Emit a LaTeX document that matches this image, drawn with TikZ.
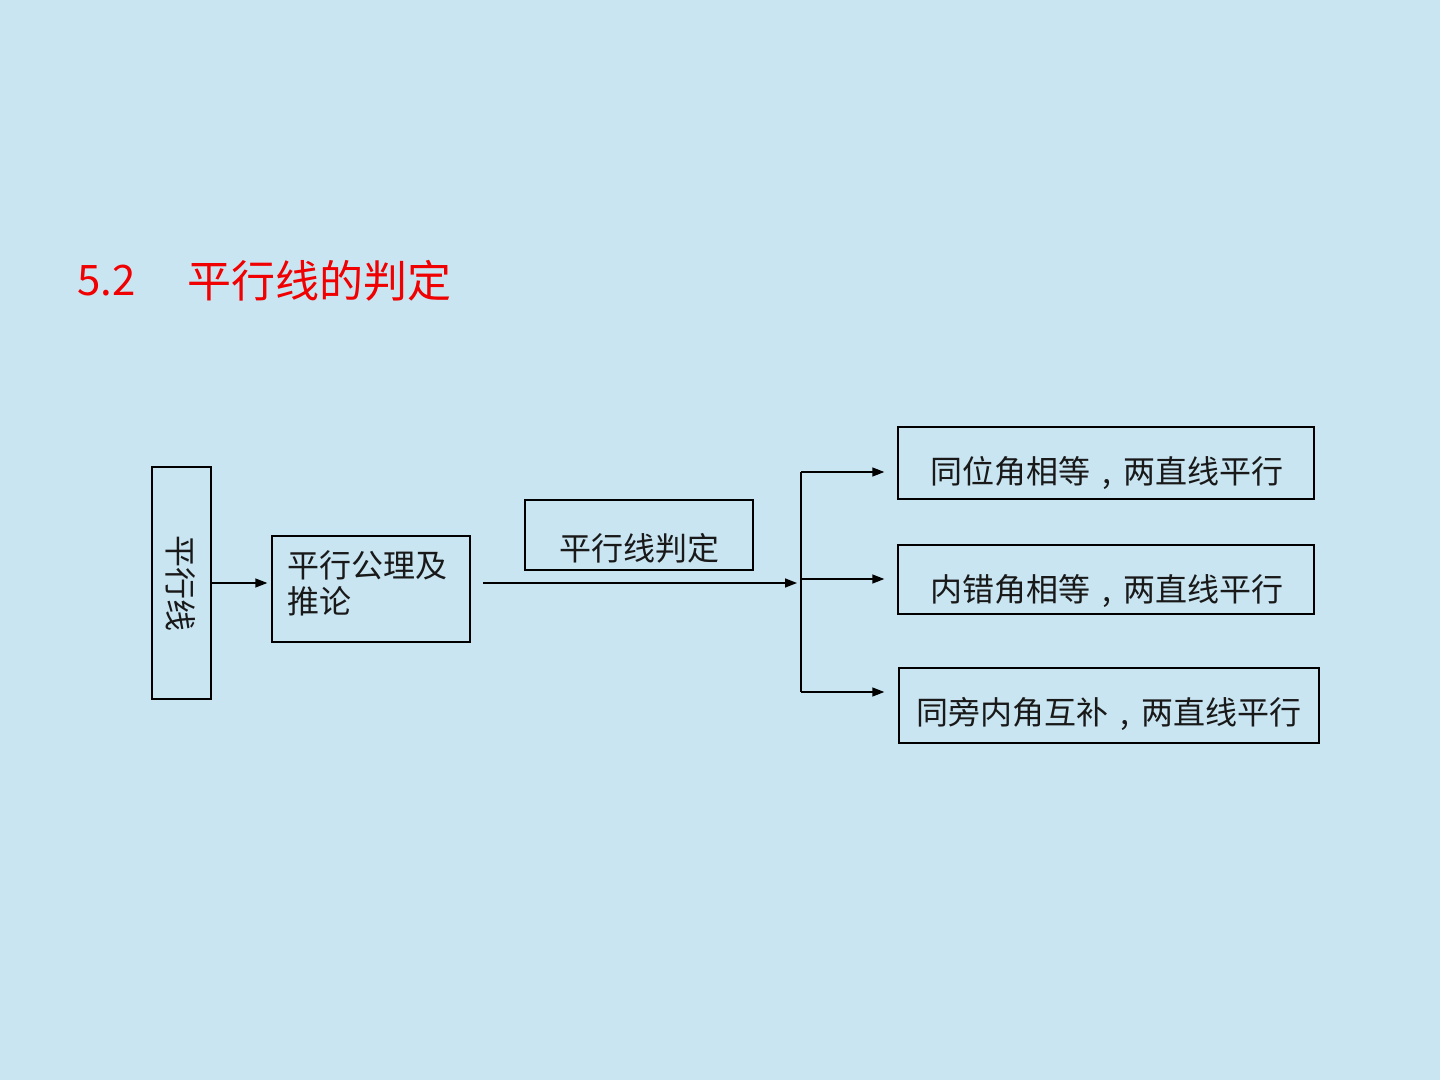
\documentclass[tikz,border=0pt]{standalone}
\usepackage{fontspec}
\setmainfont{Noto Sans CJK SC}
\usetikzlibrary{arrows.meta}
\definecolor{bgblue}{RGB}{201,229,242}
\definecolor{titlered}{RGB}{240,0,0}
\newcommand{\cmq}{\makebox[1.05em][c]{,}}
\begin{document}
\begin{tikzpicture}[x=0.5pt,y=-0.5pt,
  box/.style={draw=black,line width=0.7pt,inner sep=0pt},
  lbl/.style={inner sep=0pt,font=\fontsize{16pt}{18pt}\selectfont,text=black!90},
  conn/.style={line width=0.7pt,draw=black},
  arr/.style={conn,-{Triangle[length=6pt,width=4.5pt]}}]
\fill[bgblue] (0,0) rectangle (1440,1080);
\useasboundingbox (0,0) rectangle (1440,1080);
% title
\node[inner sep=0pt,anchor=west,text=titlered,font=\fontsize{21pt}{24pt}\selectfont] (tnum) at (77,281) {5.2};
\node[inner sep=0pt,anchor=west,text=titlered,font=\fontsize{22pt}{24pt}\selectfont] (ttxt) at (187,281) {平行线的判定};
% boxes
\node[box,minimum width=29.5pt,minimum height=116pt] (pxx) at (181.5,583) {};
\node[lbl,rotate=-90] (pxxt) at (181,583) {平行线};
\node[box,minimum width=99pt,minimum height=53pt] (gl) at (371,589) {};
\node[lbl,anchor=west,align=left] (glt) at (287,583) {平行公理及\\推论};
\node[box,minimum width=114pt,minimum height=35pt] (pd) at (639,535) {};
\node[lbl] (pdt) at (639,548) {平行线判定};
\node[box,minimum width=208pt,minimum height=36pt] (r1) at (1106,463) {};
\node[lbl] (r1t) at (1107,473) {同位角相等\cmq 两直线平行};
\node[box,minimum width=208pt,minimum height=34.5pt] (r2) at (1106,579.5) {};
\node[lbl] (r2t) at (1107,591) {内错角相等\cmq 两直线平行};
\node[box,minimum width=210pt,minimum height=37.5pt] (r3) at (1109,705.5) {};
\node[lbl] (r3t) at (1109,714) {同旁内角互补\cmq 两直线平行};
% connectors
\draw[arr,shorten >=2pt] (pxx.east |- 0,583) -- (gl.west |- 0,583);
\coordinate (s) at (483,583);
\coordinate (h) at (797,583);
\draw[arr] (s) -- (h);
\coordinate (v1) at (801,472);
\coordinate (v2) at (801,579);
\coordinate (v3) at (801,692);
\draw[conn] (v1) -- (v3);
\draw[arr,shorten >=6.5pt] (v1) -- (v1 -| r1.west);
\draw[arr,shorten >=6.5pt] (v2) -- (v2 -| r2.west);
\draw[arr,shorten >=7pt] (v3) -- (v3 -| r3.west);
\end{tikzpicture}
\end{document}
